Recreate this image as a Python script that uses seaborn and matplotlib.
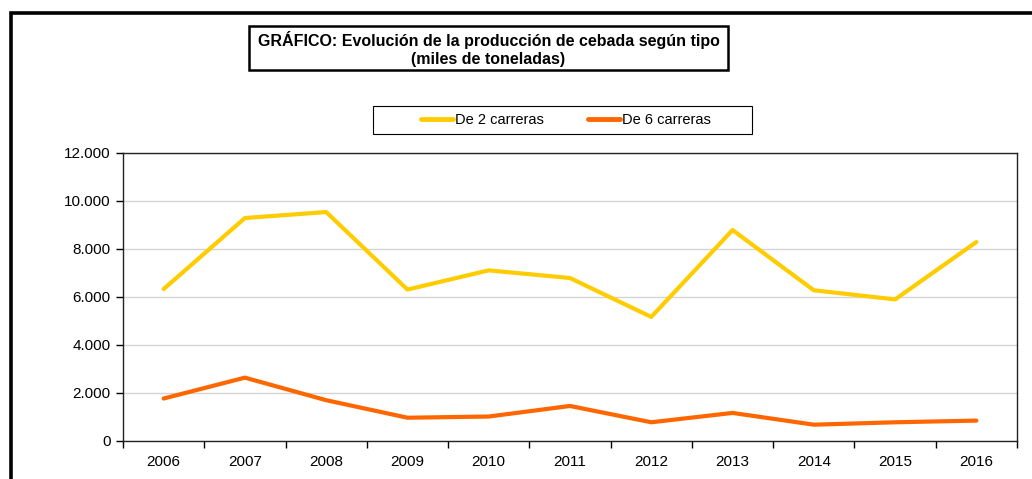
import numpy as np
import pandas as pd
import matplotlib
matplotlib.use('Agg')
import matplotlib.pyplot as plt
import seaborn as sns
from matplotlib.patches import Rectangle
from matplotlib.ticker import FuncFormatter, FixedLocator

# DATOS (miles de toneladas)
anios = ['2006', '2007', '2008', '2009', '2010', '2011', '2012', '2013', '2014', '2015', '2016']
dos_carreras = [6330, 9290, 9540, 6310, 7110, 6790, 5170, 8790, 6280, 5900, 8290]
seis_carreras = [1770, 2640, 1700, 970, 1020, 1460, 780, 1170, 680, 780, 850]
series = ['De 2 carreras', 'De 6 carreras']
colores = ['#FFCC00', '#FF6600']

df = pd.DataFrame({
    'anio': anios * 2,
    'pos': list(range(len(anios))) * 2,
    'valor': dos_carreras + seis_carreras,
    'tipo': [series[0]] * len(anios) + [series[1]] * len(anios),
})

sns.set_theme(style="white")
plt.rcParams['font.family'] = ['Liberation Sans', 'DejaVu Sans']
plt.rcParams['text.color'] = 'black'
plt.rcParams['xtick.color'] = 'black'
plt.rcParams['ytick.color'] = 'black'

W, H = 1032, 479
fig = plt.figure(figsize=(W / 100, H / 100), dpi=100)
ax = fig.add_axes([123 / W, 1 - 441 / H, (1017 - 123) / W, (441 - 153) / H])

sns.lineplot(data=df, x='pos', y='valor', hue='tipo', palette=colores,
             linewidth=3, ax=ax, legend=False, solid_capstyle='round')

# EJES
ax.set_xlim(-0.5, len(anios) - 0.5)
ax.set_ylim(0, 12000)
ax.set_yticks(np.arange(0, 12001, 2000))
ax.yaxis.set_major_formatter(FuncFormatter(lambda v, p: f'{int(v):,}'.replace(',', '.')))
ax.xaxis.set_major_locator(FixedLocator(np.arange(-0.5, len(anios), 1.0)))
ax.xaxis.set_minor_locator(FixedLocator(np.arange(len(anios))))
ax.set_xticklabels([], minor=False)
ax.set_xticklabels(anios, minor=True)
ax.tick_params(axis='x', which='major', direction='out', length=5, width=1, color='black', bottom=True)
ax.tick_params(axis='x', which='minor', length=0, labelsize=11, pad=10, bottom=True, labelcolor='black')
ax.tick_params(axis='y', direction='out', length=5, width=1, color='black', labelsize=11, pad=4,
               left=True, labelcolor='black')
ax.grid(axis='y', color='#d4d4d4', linewidth=1)
ax.set_axisbelow(True)
for s in ax.spines.values():
    s.set_visible(True)
    s.set_color('#222222')
    s.set_linewidth(1)
ax.set_xlabel('')
ax.set_ylabel('')

# LEYENDA (recuadro dibujado aparte)
handles = [plt.Line2D([], [], color=c, linewidth=3.5) for c in colores]
ax.legend(handles, series, loc='center', ncol=2,
          bbox_to_anchor=(566 / W, 1 - 120 / H),
          bbox_transform=fig.transFigure, frameon=False,
          fontsize=10.5, handlelength=2.2, handletextpad=0.15,
          borderpad=0.0, columnspacing=3.0, labelcolor='black')
fig.patches.append(Rectangle((373 / W, 1 - 134 / H), (752 - 373) / W, 28 / H,
                             transform=fig.transFigure, fill=False,
                             edgecolor='black', linewidth=0.8))

# TITULO CON RECUADRO
fig.patches.append(Rectangle((249 / W, 1 - 70 / H), (728 - 249) / W, 44 / H,
                             transform=fig.transFigure, fill=False,
                             edgecolor='black', linewidth=1.8))
fig.text(488.5 / W, 1 - 49 / H,
         'GRÁFICO: Evolución de la producción de cebada según tipo\n(miles de toneladas)',
         ha='center', va='center', fontsize=11.5, fontweight='bold', linespacing=1.2,
         color='black')

# MARCO EXTERIOR
fig.patches.append(Rectangle((10.5 / W, -0.2), 1.2, 1.2 - 12.5 / H,
                             transform=fig.transFigure, fill=False,
                             edgecolor='black', linewidth=2.6, clip_on=False))

fig.savefig('out.png', dpi=100)
